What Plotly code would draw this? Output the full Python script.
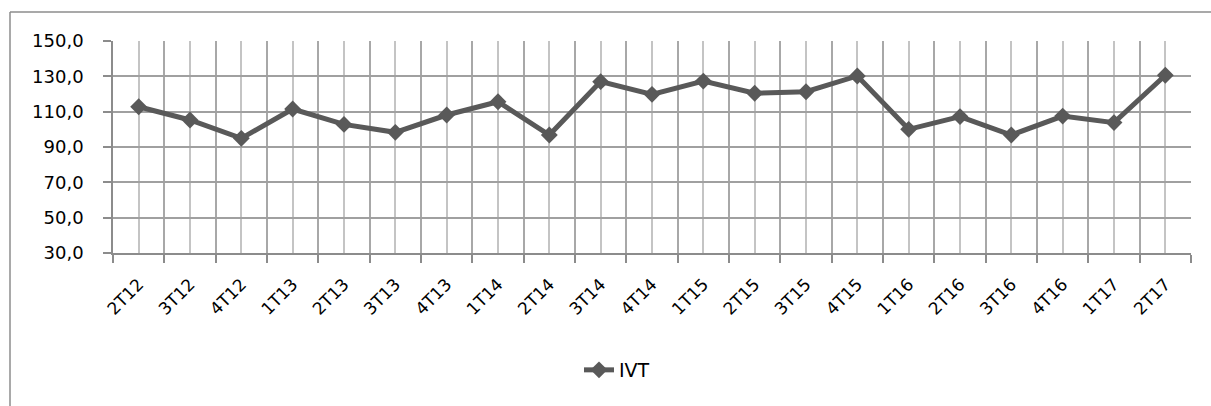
import plotly.graph_objects as go

categories = ["2T12", "3T12", "4T12", "1T13", "2T13", "3T13", "4T13", "1T14", "2T14", "3T14",
              "4T14", "1T15", "2T15", "3T15", "4T15", "1T16", "2T16", "3T16", "4T16", "1T17", "2T17"]
ivt = [112.8, 105.3, 94.9, 111.5, 102.8, 98.3, 108.1, 115.6, 96.8, 127.0,
       119.8, 127.3, 120.4, 121.3, 130.2, 100.0, 107.2, 96.8, 107.5, 103.8, 130.6]
y_ticks = [30, 50, 70, 90, 110, 130, 150]

idx = list(range(len(categories)))
LINE = "#595959"
FONT = "DejaVu Sans"

fig = go.Figure()
fig.add_trace(go.Scatter(
    x=idx, y=ivt, name="IVT", mode="lines+markers",
    line=dict(color=LINE, width=5),
    marker=dict(symbol="diamond", size=13, color=LINE),
))

W, H = 1211, 406
L, R, T, B = 113, 20, 41, 153
pw, ph = W - L - R, H - T - B

def px(xp):
    return (xp - L) / pw

def py(yp):
    return (H - B - yp) / ph

fig.update_layout(
    width=W, height=H,
    margin=dict(l=L, r=R, t=T, b=B),
    paper_bgcolor="white", plot_bgcolor="white",
    separators=",.",
    font=dict(family=FONT, size=17, color="#000000"),
    showlegend=True,
    legend=dict(orientation="h", x=px(617), y=py(370), xanchor="center", yanchor="middle",
                font=dict(family=FONT, size=19, color="#000000"), bgcolor="rgba(0,0,0,0)"),
    xaxis=dict(
        range=[-0.5, len(categories) - 0.5],
        tickmode="array", tickvals=idx, ticktext=categories,
        tickangle=-45, ticks="", showgrid=True, gridcolor="#c4c4c4", gridwidth=1.5,
        showline=True, linecolor="#8c8c8c", linewidth=1.5,
        minor=dict(tick0=-0.5, dtick=1, showgrid=True, gridcolor="#a8a8a8", gridwidth=1.5,
                   ticks="outside", ticklen=8, tickcolor="#8c8c8c", tickwidth=1.5),
        ticklabelstandoff=13,
        tickfont=dict(family=FONT, size=17),
        zeroline=False, fixedrange=True,
    ),
    yaxis=dict(
        range=[30, 150], tickmode="array", tickvals=y_ticks, tickformat=".1f",
        showgrid=True, gridcolor="#a0a0a0", gridwidth=1.5,
        showline=True, linecolor="#8c8c8c", linewidth=1.5,
        ticks="outside", ticklen=8, tickcolor="#8c8c8c", tickwidth=1.5,
        ticklabelstandoff=16,
        tickfont=dict(family=FONT, size=18),
        zeroline=False, fixedrange=True,
    ),
    shapes=[
        dict(type="line", xref="paper", yref="paper", x0=px(10), x1=px(1215), y0=py(12), y1=py(12),
             line=dict(color="#8c8c8c", width=1.5)),
        dict(type="line", xref="paper", yref="paper", x0=px(10), x1=px(10), y0=py(12), y1=py(410),
             line=dict(color="#8c8c8c", width=1.5)),
    ],
)

fig.write_html("out.html", config={"displayModeBar": False},
               post_script="document.body.style.margin='0';document.body.style.overflow='hidden';")
